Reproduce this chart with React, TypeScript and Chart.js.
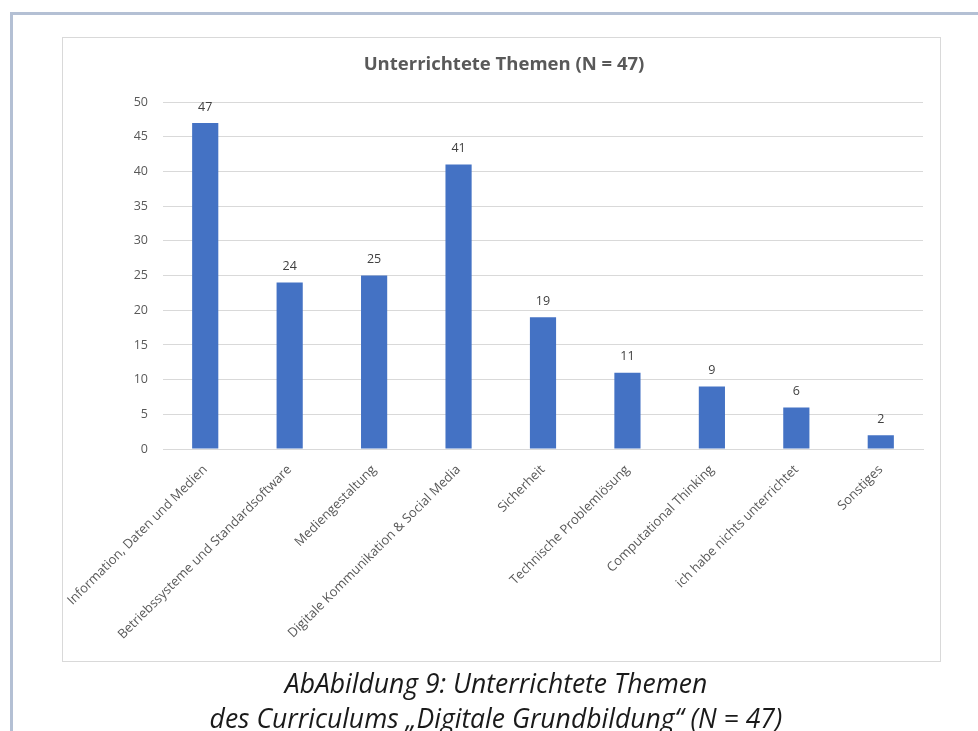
import React, { useEffect, useRef } from "react";
import { Chart, registerables } from "chart.js";

Chart.register(...registerables);

const categories = [
  "Information, Daten und Medien",
  "Betriebssysteme und Standardsoftware",
  "Mediengestaltung",
  "Digitale Kommunikation & Social Media",
  "Sicherheit",
  "Technische Problemlösung",
  "Computational Thinking",
  "ich habe nichts unterrichtet",
  "Sonstiges",
];
const values = [47, 24, 25, 41, 19, 11, 9, 6, 2];
const chartTitle = "Unterrichtete Themen (N = 47)";
const captionLines = [
  "AbAbildung 9: Unterrichtete Themen",
  "des Curriculums \u201eDigitale Grundbildung\u201c (N = 47)",
];

const FONT = "'Open Sans', sans-serif";

const valueLabels = {
  id: "valueLabels",
  afterDatasetsDraw(chart: any) {
    const ctx = chart.ctx;
    const meta = chart.getDatasetMeta(0);
    ctx.save();
    ctx.font = `12.5px ${FONT}`;
    ctx.fillStyle = "#404040";
    ctx.textAlign = "center";
    ctx.textBaseline = "middle";
    meta.data.forEach((bar: any, i: number) => {
      ctx.fillText(String(chart.data.datasets[0].data[i]), bar.x, bar.y - 16);
    });
    ctx.restore();
  },
};

export default function App() {
  const ref = useRef<HTMLCanvasElement>(null);
  useEffect(() => {
    const chart = new Chart(ref.current!, {
      type: "bar",
      data: {
        labels: categories,
        datasets: [
          {
            data: values,
            backgroundColor: "#4472c4",
            borderWidth: 0,
            categoryPercentage: 1,
            barPercentage: 0.31,
          },
        ],
      },
      options: {
        animation: false,
        responsive: true,
        maintainAspectRatio: false,
        layout: { padding: { left: 22, right: 17, top: 0, bottom: 0 } },
        plugins: {
          legend: { display: false },
          tooltip: { enabled: false },
          title: {
            display: true,
            text: chartTitle,
            color: "#595959",
            font: { family: FONT, size: 18.5, weight: "bold" },
            padding: { top: 16, bottom: 26 },
          },
        },
        scales: {
          x: {
            grid: { display: false, drawTicks: false },
            border: { display: true, color: "#d9d9d9" },
            ticks: {
              autoSkip: false,
              minRotation: 45,
              maxRotation: 45,
              color: "#595959",
              font: { family: FONT, size: 13 },
              padding: 13,
            },
            afterFit(scale: any) {
              scale.height = 212;
              scale.paddingLeft = 0;
              scale.paddingRight = 0;
            },
          },
          y: {
            min: 0,
            max: 50,
            grid: { color: "#d9d9d9", drawTicks: false },
            border: { display: false },
            ticks: {
              stepSize: 5,
              color: "#595959",
              font: { family: FONT, size: 12.5 },
              padding: 15,
            },
            afterFit(scale: any) {
              scale.width = 78;
            },
          },
        },
      },
      plugins: [valueLabels],
    });
    return () => chart.destroy();
  }, []);

  return (
    <div style={{ position: "relative", width: 978, height: 731, overflow: "hidden" }}>
      <div
        style={{
          position: "fixed",
          left: 10,
          top: 12,
          right: -10,
          bottom: -10,
          borderLeft: "3px solid #b4c0d4",
          borderTop: "3px solid #b4c0d4",
        }}
      />
      <div
        style={{
          position: "fixed",
          left: 62,
          top: 37,
          width: 877,
          height: 623,
          border: "1px solid #d9d9d9",
          background: "#fff",
        }}
      >
        <canvas ref={ref} />
      </div>
      <div
        style={{
          position: "fixed",
          left: 14,
          top: 666,
          width: 964,
          textAlign: "center",
          fontFamily: "'Open Sans', sans-serif",
          fontStyle: "italic",
          fontSize: 26.5,
          lineHeight: "35px",
          color: "#1a1a1a",
        }}
      >
        {captionLines.map((l, i) => (
          <div key={i}>{l}</div>
        ))}
      </div>
    </div>
  );
}
